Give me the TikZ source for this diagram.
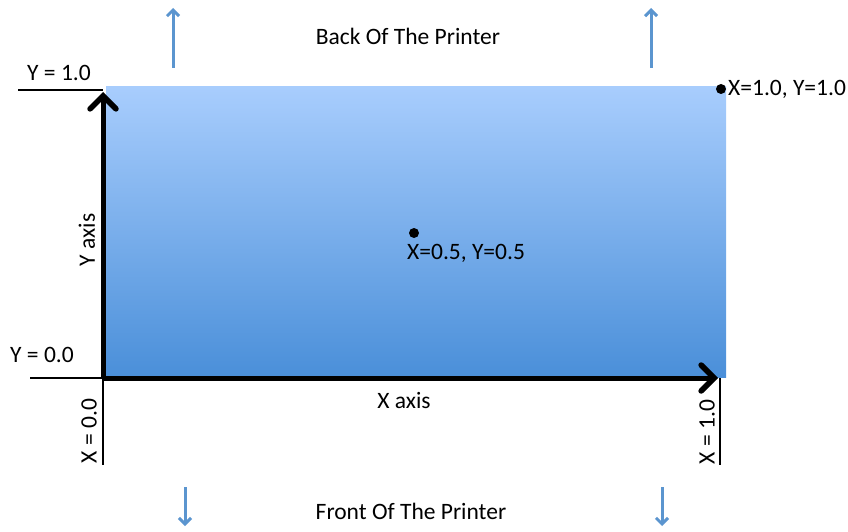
\documentclass[tikz,border=0pt]{standalone}
\usepackage{fontspec}
\setmainfont{Carlito}
\usetikzlibrary{arrows.meta}
\definecolor{bedtop}{HTML}{A8CDFD}
\definecolor{bedbot}{HTML}{4A8FD9}
\definecolor{dirblue}{HTML}{5B95CF}
\tikzset{
  lbl/.style={font=\fontsize{23.5}{26}\selectfont, inner sep=0pt},
  axisline/.style={line width=5pt, -{Straight Barb[length=13pt,width=26pt,line width=5.5pt,line cap=round]}},
  limitline/.style={line width=2pt},
  dirarrow/.style={dirblue, line width=3pt, -{Straight Barb[length=6pt,width=12pt,line width=3pt]}},
  pt/.style={circle, fill=black, inner sep=0pt, minimum size=10pt}
}
\begin{document}
\begin{tikzpicture}[x=1pt,y=-1pt]
\useasboundingbox (0,0) rectangle (848,532);
% print bed
\shade[top color=bedtop, bottom color=bedbot] (106,87) rectangle (726,377);
% origin and limit guides
\coordinate (o) at (103,378);
\coordinate (ytop) at (103,92);
\coordinate (xend) at (718,378);
\coordinate (y1l) at (18,90);
\coordinate (y0l) at (30,378);
\coordinate (x0b) at (103,465);
\coordinate (x1b) at (720,465);
\draw[limitline] (y1l) -- (103,90);
\draw[limitline] (y0l) -- (o);
\draw[limitline] (o) -- (x0b);
\draw[limitline] (720,378) -- (x1b);
\draw[axisline] (o) -- (ytop);
\draw[axisline] (o) -- (xend);
% labels
\node[lbl] (y1) at (59,73) {Y = 1.0};
\node[lbl] (y0) at (42,355) {Y = 0.0};
\node[lbl, rotate=90] (x0) at (89,431) {X = 0.0};
\node[lbl, rotate=90] (x1) at (707,432) {X = 1.0};
\node[lbl, rotate=90] (yax) at (87,240) {Y axis};
\node[lbl] (xax) at (404,400) {X axis};
% sample points
\node[pt] (mid) at (414,233) {};
\node[lbl, anchor=west] (midl) at (407,253) {X=0.5, Y=0.5};
\node[pt] (corner) at (721,89) {};
\node[lbl, anchor=west] (cornl) at (728,89) {X=1.0, Y=1.0};
% printer orientation
\node[lbl] (back) at (408,36) {Back Of The Printer};
\node[lbl] (front) at (411,511) {Front Of The Printer};
\coordinate (bl0) at (173,68); \coordinate (bl1) at (173,8);
\coordinate (br0) at (651,68); \coordinate (br1) at (651,8);
\coordinate (fl0) at (185,487); \coordinate (fl1) at (185,526);
\coordinate (fr0) at (662,487); \coordinate (fr1) at (662,526);
\draw[dirarrow] (bl0) -- (bl1);
\draw[dirarrow] (br0) -- (br1);
\draw[dirarrow] (fl0) -- (fl1);
\draw[dirarrow] (fr0) -- (fr1);
\end{tikzpicture}
\end{document}
